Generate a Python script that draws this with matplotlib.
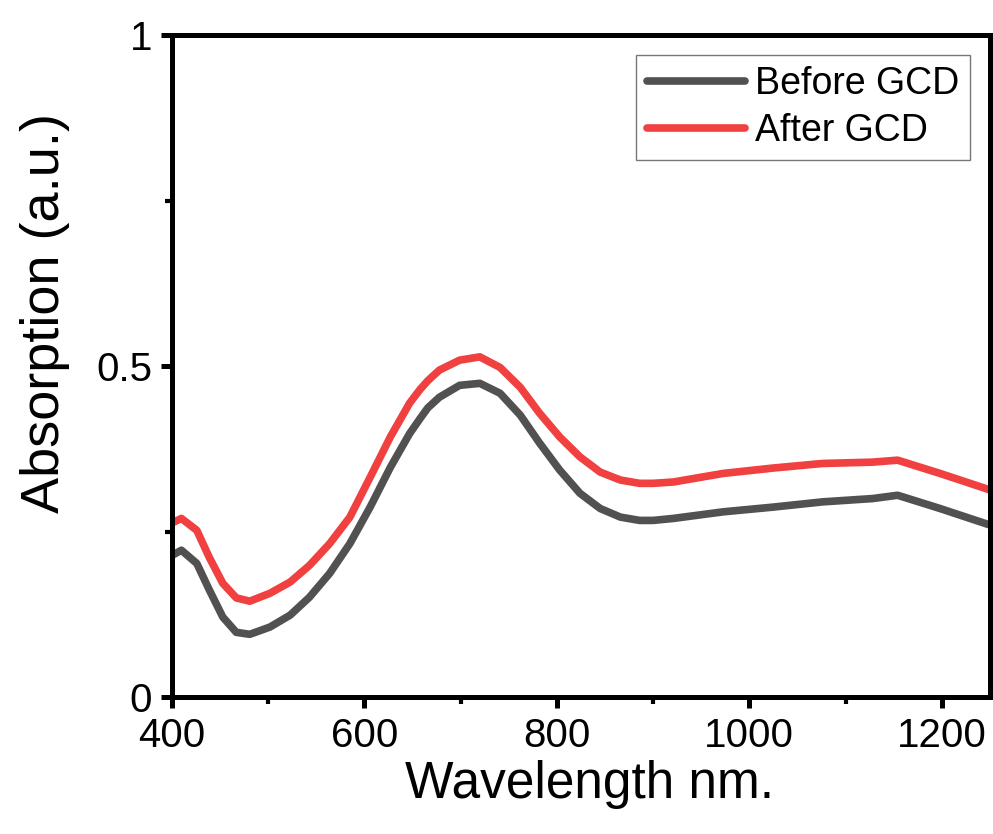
import matplotlib
matplotlib.use("Agg")
import matplotlib.pyplot as plt
from matplotlib.ticker import MultipleLocator, FuncFormatter

plt.rcParams['font.family'] = ['Liberation Sans', 'DejaVu Sans']

wavelength = [400, 410, 426, 439, 453, 467, 481, 502, 523, 543, 564, 585, 606, 627,
              647, 658, 666, 678, 699, 720, 741, 762, 782, 803, 824, 845, 866, 886,
              900, 921, 973, 1024, 1076, 1128, 1154, 1198, 1250]
before_gcd = [0.214, 0.222, 0.202, 0.162, 0.121, 0.098, 0.095, 0.106, 0.124, 0.151,
              0.187, 0.232, 0.287, 0.347, 0.398, 0.421, 0.437, 0.453, 0.471, 0.474,
              0.459, 0.426, 0.384, 0.343, 0.308, 0.285, 0.272, 0.267, 0.267, 0.270,
              0.280, 0.287, 0.295, 0.300, 0.305, 0.285, 0.260]
after_gcd = [0.263, 0.270, 0.252, 0.211, 0.172, 0.150, 0.145, 0.157, 0.174, 0.199,
             0.232, 0.272, 0.332, 0.393, 0.444, 0.465, 0.478, 0.494, 0.509, 0.514,
             0.498, 0.468, 0.429, 0.393, 0.363, 0.340, 0.328, 0.323, 0.323, 0.325,
             0.338, 0.346, 0.353, 0.355, 0.358, 0.338, 0.313]

fig = plt.figure(figsize=(9.93, 8.34), dpi=100)
ax = fig.add_axes([0.173, 0.164, 0.824, 0.794])

ax.plot(wavelength, before_gcd, color='#515151', lw=5.5, label='Before GCD',
        solid_capstyle='round', solid_joinstyle='round')
ax.plot(wavelength, after_gcd, color='#f04040', lw=5.5, label='After GCD',
        solid_capstyle='round', solid_joinstyle='round')

ax.set_xlim(400, 1250)
ax.set_ylim(0, 1)
ax.xaxis.set_major_locator(MultipleLocator(200))
ax.xaxis.set_minor_locator(MultipleLocator(100))
ax.yaxis.set_major_locator(MultipleLocator(0.5))
ax.yaxis.set_minor_locator(MultipleLocator(0.25))
ax.yaxis.set_major_formatter(FuncFormatter(lambda v, p: f"{v:g}"))

for s in ax.spines.values():
    s.set_linewidth(3.6)
ax.tick_params(which='major', direction='out', length=8, width=3.6, labelsize=29, pad=6)
ax.tick_params(which='minor', direction='out', length=5, width=3.0)
ax.tick_params(top=False, right=False)

ax.set_xlabel('Wavelength nm.', fontsize=37)
ax.xaxis.set_label_coords(0.51, -0.095)
ax.set_ylabel('Absorption (a.u.)', fontsize=39)
ax.yaxis.set_label_coords(-0.125, 0.58)

leg = ax.legend(loc='upper right', fontsize=27, frameon=True, fancybox=False,
                edgecolor='#555555', handlelength=2.6, handletextpad=0.27,
                borderpad=0.3, labelspacing=0.28, borderaxespad=0.0,
                bbox_to_anchor=(0.976, 0.97))
leg.get_frame().set_linewidth(1.0)

fig.savefig('out.png', dpi=100)
